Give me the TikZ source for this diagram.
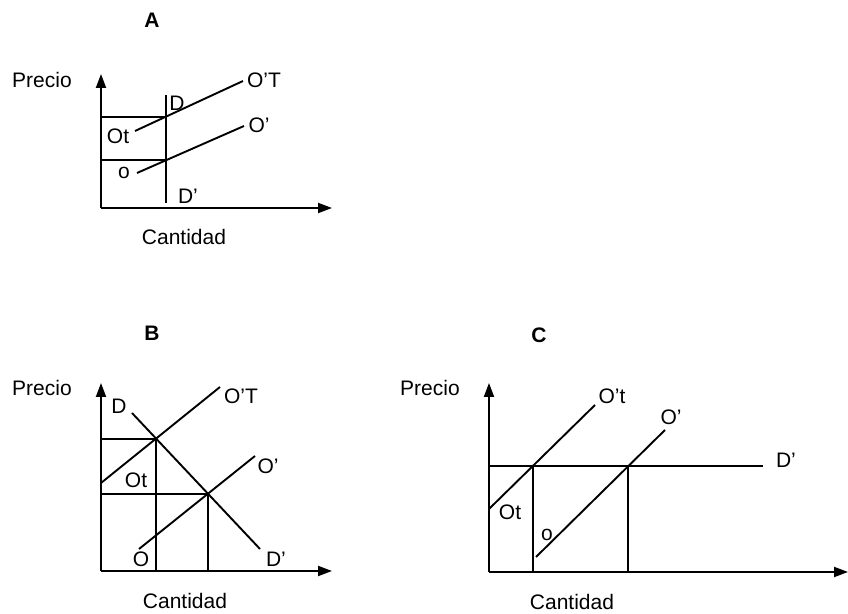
\documentclass[tikz,border=0pt]{standalone}
\usepackage{fontspec}
\setmainfont{Liberation Sans}
\usetikzlibrary{arrows.meta}
\tikzset{
  lbl/.style={inner sep=1pt,font=\fontsize{10.5}{12}\selectfont},
  ttl/.style={inner sep=1pt,font=\fontsize{10.5}{12}\selectfont\bfseries},
  ax/.style={-{Triangle[length=7pt,width=5pt]},line width=1pt},
  crv/.style={line width=0.95pt},
}

\begin{document}
\begin{tikzpicture}[x=0.5pt,y=-0.5pt]
\useasboundingbox (0,0) rectangle (848,614);
% ---- panel A
\node[ttl] (tA) at (152,20) {A};
\node[lbl] (pA) at (42,80) {Precio};
\node[lbl] (cA) at (184,237) {Cantidad};
\coordinate (oA) at (101,208);
\coordinate (yA) at (101,74);
\coordinate (xA) at (332,208);
\draw[ax] (oA) -- (yA);
\draw[ax] (oA) -- (xA);
\coordinate (dA1) at (166,95);
\coordinate (dA2) at (166,203);
\coordinate (otA1) at (135,131);
\coordinate (otA2) at (243,81);
\coordinate (sA1) at (137,173);
\coordinate (sA2) at (244,126);
\coordinate (eA1) at (intersection of dA1--dA2 and otA1--otA2);
\coordinate (eA2) at (intersection of dA1--dA2 and sA1--sA2);
\draw[crv] (dA1) -- (dA2);
\draw[crv] (otA1) -- (otA2);
\draw[crv] (sA1) -- (sA2);
\draw[crv] (oA |- eA1) -- (eA1);
\draw[crv] (oA |- eA2) -- (eA2);
\node[lbl] at (177,103) {D};
\node[lbl] at (264,80) {O’T};
\node[lbl] at (118,136) {Ot};
\node[lbl] at (259,125) {O’};
\node[lbl] at (124,173) {o};
\node[lbl] at (188,196) {D’};
% ---- panel B
\node[ttl] (tB) at (152,333) {B};
\node[lbl] (pB) at (42,388) {Precio};
\node[lbl] (cB) at (185,601) {Cantidad};
\coordinate (oB) at (101,571);
\coordinate (yB) at (101,383);
\coordinate (xB) at (332,571);
\draw[ax] (oB) -- (yB);
\draw[ax] (oB) -- (xB);
\coordinate (otB1) at (101,483);
\coordinate (otB2) at (220,387);
\coordinate (dB1) at (132,413);
\coordinate (dB2) at (260,549);
\coordinate (sB1) at (139,549);
\coordinate (sB2) at (255,456);
\coordinate (eB1) at (intersection of dB1--dB2 and otB1--otB2);
\coordinate (eB2) at (intersection of dB1--dB2 and sB1--sB2);
\draw[crv] (otB1) -- (otB2);
\draw[crv] (dB1) -- (dB2);
\draw[crv] (sB1) -- (sB2);
\draw[crv] (oB |- eB1) -- (eB1) -- (eB1 |- oB);
\draw[crv] (oB |- eB2) -- (eB2) -- (eB2 |- oB);
\node[lbl] at (119,406) {D};
\node[lbl] at (241,396) {O’T};
\node[lbl] at (136,480) {Ot};
\node[lbl] at (268,466) {O’};
\node[lbl] at (141,559) {O};
\node[lbl] at (276,559) {D’};
% ---- panel C
\node[ttl] (tC) at (539,335) {C};
\node[lbl] (pC) at (430,388) {Precio};
\node[lbl] (cC) at (572,602) {Cantidad};
\coordinate (oC) at (489,572);
\coordinate (yC) at (489,383);
\coordinate (xC) at (848,572);
\draw[ax] (oC) -- (yC);
\draw[ax] (oC) -- (xC);
\coordinate (dC1) at (489,466);
\coordinate (dC2) at (763,466);
\coordinate (otC1) at (489,509);
\coordinate (otC2) at (595,405);
\coordinate (sC1) at (536,557);
\coordinate (sC2) at (665,430);
\coordinate (eC1) at (intersection of dC1--dC2 and otC1--otC2);
\coordinate (eC2) at (intersection of dC1--dC2 and sC1--sC2);
\draw[crv] (dC1) -- (dC2);
\draw[crv] (otC1) -- (otC2);
\draw[crv] (sC1) -- (sC2);
\draw[crv] (eC1) -- (eC1 |- oC);
\draw[crv] (eC2) -- (eC2 |- oC);
\node[lbl] at (612,396) {O’t};
\node[lbl] at (671,417) {O’};
\node[lbl] at (786,460) {D’};
\node[lbl] at (510,512) {Ot};
\node[lbl] at (547,535) {o};
\end{tikzpicture}
\end{document}
